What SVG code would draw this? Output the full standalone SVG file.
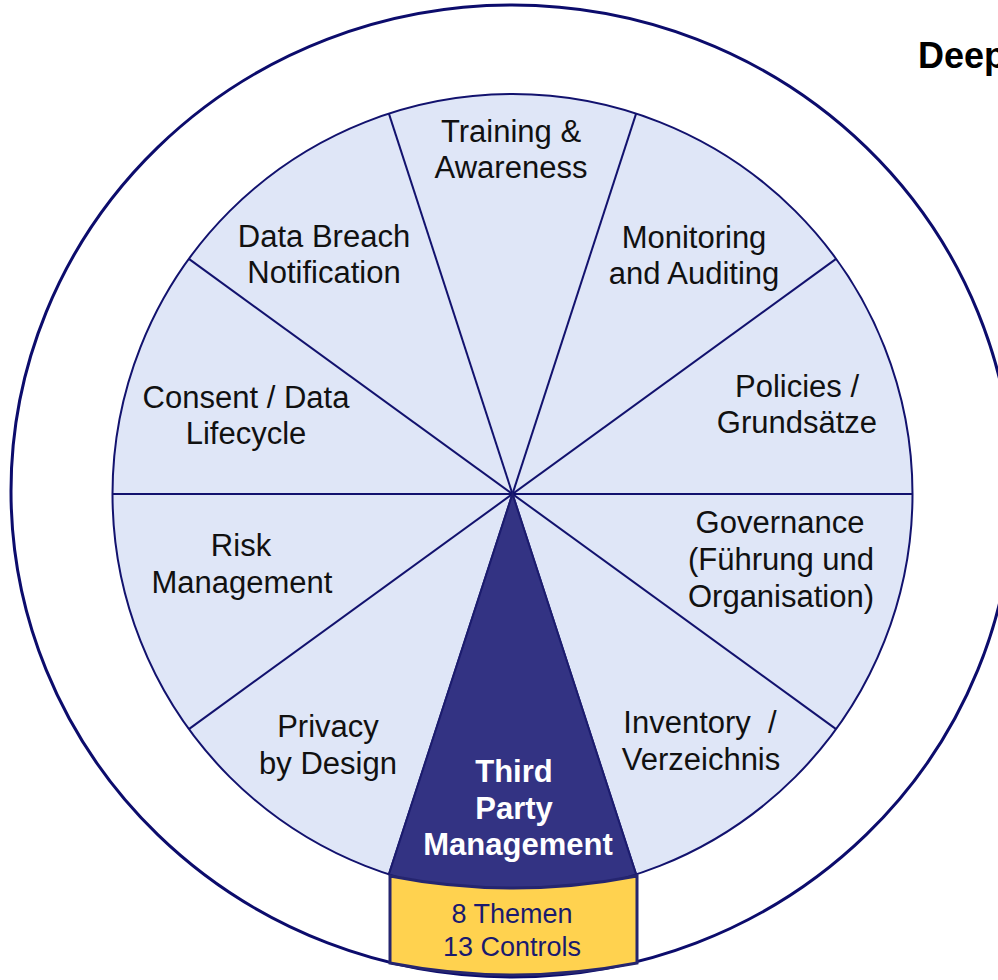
<svg xmlns="http://www.w3.org/2000/svg" width="998" height="980" viewBox="0 0 998 980">
<style>
.lbl{font-family:"Liberation Sans",Arial,sans-serif;font-size:31px;fill:#111;text-anchor:middle}
.bold{font-weight:bold;fill:#fff}
.ybox{font-family:"Liberation Sans",Arial,sans-serif;font-size:27px;fill:#1a1a6e;text-anchor:middle}
.div{stroke:#12126e;stroke-width:2;fill:none}
</style>
<rect width="998" height="980" fill="#fff"/>
<g id="outer-ring">
<ellipse cx="512" cy="491" rx="501" ry="486" fill="none" stroke="#0c0c6c" stroke-width="3"/>
</g>
<g id="wheel">
<circle cx="512.5" cy="494" r="400" fill="#dfe6f7" stroke="#12126e" stroke-width="2"/>
</g>
<g id="dividers">
<line class="div" x1="112.5" y1="494" x2="912.5" y2="494"/>
<line class="div" x1="836.1" y1="258.9" x2="188.9" y2="729.1"/>
<line class="div" x1="636.1" y1="113.6" x2="388.9" y2="874.4"/>
<line class="div" x1="388.9" y1="113.6" x2="636.1" y2="874.4"/>
<line class="div" x1="188.9" y1="258.9" x2="836.1" y2="729.1"/>
</g>
<g id="third-party">
<path d="M512.5 494 L636.1 874.4 A400 400 0 0 1 388.9 874.4 Z" fill="#333383" stroke="#1c1c6e" stroke-width="2"/>
<text class="lbl bold" x="514" y="782">Third</text>
<text class="lbl bold" x="514" y="819">Party</text>
<text class="lbl bold" x="518" y="855">Management</text>
</g>
<g id="count-box">
<path d="M390 876 Q513 900 637 876 L637 963 Q513 987 390 963 Z" fill="#ffd24f" stroke="#25256f" stroke-width="3"/>
<text class="ybox" x="512" y="923">8 Themen</text>
<text class="ybox" x="512" y="956">13 Controls</text>
</g>
<g id="training">
<text class="lbl" x="511" y="142">Training &amp;</text>
<text class="lbl" x="511" y="178">Awareness</text>
</g>
<g id="monitoring">
<text class="lbl" x="694" y="248">Monitoring</text>
<text class="lbl" x="694" y="284">and Auditing</text>
</g>
<g id="policies">
<text class="lbl" x="797" y="397">Policies /</text>
<text class="lbl" x="797" y="433">Grundsätze</text>
</g>
<g id="governance">
<text class="lbl" x="780" y="533">Governance</text>
<text class="lbl" x="781" y="570">(Führung und</text>
<text class="lbl" x="781" y="607">Organisation)</text>
</g>
<g id="inventory">
<text class="lbl" x="700" y="733" xml:space="preserve">Inventory  /</text>
<text class="lbl" x="701" y="770">Verzeichnis</text>
</g>
<g id="privacy">
<text class="lbl" x="328" y="737">Privacy</text>
<text class="lbl" x="328" y="774">by Design</text>
</g>
<g id="risk">
<text class="lbl" x="241" y="556">Risk</text>
<text class="lbl" x="242" y="593">Management</text>
</g>
<g id="consent">
<text class="lbl" x="246" y="408">Consent / Data</text>
<text class="lbl" x="246" y="444">Lifecycle</text>
</g>
<g id="data-breach">
<text class="lbl" x="324" y="247">Data Breach</text>
<text class="lbl" x="324" y="283">Notification</text>
</g>
<g id="title">
<text x="918" y="68" font-family="Liberation Sans,Arial,sans-serif" font-size="36" font-weight="bold" fill="#000">Deep</text>
</g>
</svg>
